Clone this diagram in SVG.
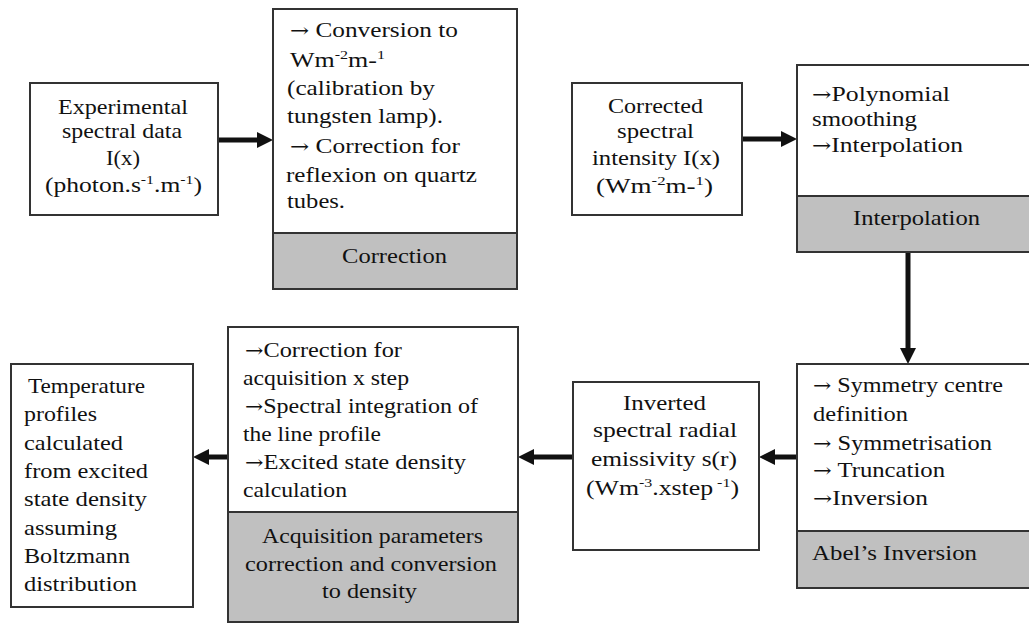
<svg xmlns="http://www.w3.org/2000/svg" width="1029" height="624" viewBox="0 0 1029 624">
<style>
.box{fill:#fff;stroke:#333;stroke-width:2}
.gray{fill:#c0c0c0;stroke:#333;stroke-width:2}
text{font-family:"Liberation Serif","Times New Roman",serif;font-size:21px;fill:#111}
.sup{font-size:13px}
.ar{font-family:"DejaVu Serif","Liberation Serif",serif;font-size:19px}
.conn{stroke:#111;stroke-width:5;fill:none}
</style>
<defs>
<marker id="ah" markerUnits="userSpaceOnUse" markerWidth="16" markerHeight="16" refX="4" refY="8" orient="auto">
<path d="M0,0 L16,8 L0,16 z" fill="#111"/>
</marker>
</defs>
<rect width="1029" height="624" fill="#fff"/>
<g id="connectors">
<path class="conn" d="M218,140 H261" marker-end="url(#ah)"/>
<path class="conn" d="M742,139 H785" marker-end="url(#ah)"/>
<path class="conn" d="M908,252 V352" marker-end="url(#ah)"/>
<path class="conn" d="M797,457 H771" marker-end="url(#ah)"/>
<path class="conn" d="M573,457 H530" marker-end="url(#ah)"/>
<path class="conn" d="M228,457 H205" marker-end="url(#ah)"/>
</g>
<g id="experimental">
<rect class="box" x="30" y="83" width="188" height="132"/>
<text x="58" y="114" textLength="130" lengthAdjust="spacingAndGlyphs">Experimental</text>
<text x="62" y="138" textLength="120" lengthAdjust="spacingAndGlyphs">spectral data</text>
<text x="106" y="165" textLength="34" lengthAdjust="spacingAndGlyphs">I(x)</text>
<text x="45" y="192" textLength="157" lengthAdjust="spacingAndGlyphs">(photon.s<tspan class="sup" dy="-8">-1</tspan><tspan dy="8">.m</tspan><tspan class="sup" dy="-8">-1</tspan><tspan dy="8">)</tspan></text>
</g>
<g id="correction">
<rect class="box" x="273" y="9" width="244" height="224"/>
<rect class="gray" x="273" y="233" width="244" height="56"/>
<text x="290" y="37" textLength="168" lengthAdjust="spacingAndGlyphs"><tspan class="ar">→</tspan> Conversion to</text>
<text x="290" y="67" textLength="95" lengthAdjust="spacingAndGlyphs">Wm<tspan class="sup" dy="-8">-2</tspan><tspan dy="8">m-</tspan><tspan class="sup" dy="-8">1</tspan></text>
<text x="287" y="95" textLength="148" lengthAdjust="spacingAndGlyphs">(calibration by</text>
<text x="287" y="123" textLength="156" lengthAdjust="spacingAndGlyphs">tungsten lamp).</text>
<text x="290" y="153" textLength="170" lengthAdjust="spacingAndGlyphs"><tspan class="ar">→</tspan> Correction for</text>
<text x="286" y="182" textLength="191" lengthAdjust="spacingAndGlyphs">reflexion on quartz</text>
<text x="287" y="208" textLength="58" lengthAdjust="spacingAndGlyphs">tubes.</text>
<text x="342" y="263" textLength="105" lengthAdjust="spacingAndGlyphs">Correction</text>
</g>
<g id="corrected">
<rect class="box" x="572" y="83" width="170" height="132"/>
<text x="608" y="113" textLength="95" lengthAdjust="spacingAndGlyphs">Corrected</text>
<text x="617" y="138" textLength="77" lengthAdjust="spacingAndGlyphs">spectral</text>
<text x="592" y="165" textLength="128" lengthAdjust="spacingAndGlyphs">intensity I(x)</text>
<text x="596" y="193" textLength="117" lengthAdjust="spacingAndGlyphs">(Wm<tspan class="sup" dy="-8">-2</tspan><tspan dy="8">m-</tspan><tspan class="sup" dy="-8">1</tspan><tspan dy="8">)</tspan></text>
</g>
<g id="interpolation">
<rect class="box" x="797" y="65" width="240" height="131"/>
<rect class="gray" x="797" y="196" width="240" height="56"/>
<text x="812" y="101" textLength="138" lengthAdjust="spacingAndGlyphs"><tspan class="ar">→</tspan>Polynomial</text>
<text x="812" y="126" textLength="105" lengthAdjust="spacingAndGlyphs">smoothing</text>
<text x="812" y="152" textLength="151" lengthAdjust="spacingAndGlyphs"><tspan class="ar">→</tspan>Interpolation</text>
<text x="853" y="225" textLength="127" lengthAdjust="spacingAndGlyphs">Interpolation</text>
</g>
<g id="abel">
<rect class="box" x="797" y="364" width="240" height="167"/>
<rect class="gray" x="797" y="531" width="240" height="57"/>
<text x="813" y="392" textLength="190" lengthAdjust="spacingAndGlyphs"><tspan class="ar">→</tspan> Symmetry centre</text>
<text x="813" y="421" textLength="95" lengthAdjust="spacingAndGlyphs">definition</text>
<text x="813" y="450" textLength="179" lengthAdjust="spacingAndGlyphs"><tspan class="ar">→</tspan> Symmetrisation</text>
<text x="813" y="477" textLength="132" lengthAdjust="spacingAndGlyphs"><tspan class="ar">→</tspan> Truncation</text>
<text x="813" y="505" textLength="115" lengthAdjust="spacingAndGlyphs"><tspan class="ar">→</tspan>Inversion</text>
<text x="812" y="560" textLength="165" lengthAdjust="spacingAndGlyphs">Abel’s Inversion</text>
</g>
<g id="inverted">
<rect class="box" x="573" y="382" width="186" height="168"/>
<text x="623" y="410" textLength="83" lengthAdjust="spacingAndGlyphs">Inverted</text>
<text x="593" y="437" textLength="144" lengthAdjust="spacingAndGlyphs">spectral radial</text>
<text x="591" y="466" textLength="146" lengthAdjust="spacingAndGlyphs">emissivity s(r)</text>
<text x="586" y="495" textLength="153" lengthAdjust="spacingAndGlyphs">(Wm<tspan class="sup" dy="-8">-3</tspan><tspan dy="8">.xstep</tspan><tspan class="sup" dy="-8"> -1</tspan><tspan dy="8">)</tspan></text>
</g>
<g id="acquisition">
<rect class="box" x="228" y="327" width="290" height="185"/>
<rect class="gray" x="228" y="512" width="290" height="110"/>
<text x="245" y="357" textLength="157" lengthAdjust="spacingAndGlyphs"><tspan class="ar">→</tspan>Correction for</text>
<text x="243" y="385" textLength="166" lengthAdjust="spacingAndGlyphs">acquisition x step</text>
<text x="245" y="413" textLength="233" lengthAdjust="spacingAndGlyphs"><tspan class="ar">→</tspan>Spectral integration of</text>
<text x="243" y="441" textLength="138" lengthAdjust="spacingAndGlyphs">the line profile</text>
<text x="245" y="469" textLength="221" lengthAdjust="spacingAndGlyphs"><tspan class="ar">→</tspan>Excited state density</text>
<text x="243" y="497" textLength="104" lengthAdjust="spacingAndGlyphs">calculation</text>
<text x="262" y="543" textLength="221" lengthAdjust="spacingAndGlyphs">Acquisition parameters</text>
<text x="245" y="571" textLength="252" lengthAdjust="spacingAndGlyphs">correction and conversion</text>
<text x="322" y="598" textLength="95" lengthAdjust="spacingAndGlyphs">to density</text>
</g>
<g id="temperature">
<rect class="box" x="11" y="364" width="182" height="243"/>
<text x="28" y="393" textLength="117" lengthAdjust="spacingAndGlyphs">Temperature</text>
<text x="24" y="421" textLength="73" lengthAdjust="spacingAndGlyphs">profiles</text>
<text x="24" y="450" textLength="99" lengthAdjust="spacingAndGlyphs">calculated</text>
<text x="24" y="478" textLength="124" lengthAdjust="spacingAndGlyphs">from excited</text>
<text x="24" y="506" textLength="123" lengthAdjust="spacingAndGlyphs">state density</text>
<text x="24" y="535" textLength="93" lengthAdjust="spacingAndGlyphs">assuming</text>
<text x="24" y="563" textLength="106" lengthAdjust="spacingAndGlyphs">Boltzmann</text>
<text x="24" y="591" textLength="113" lengthAdjust="spacingAndGlyphs">distribution</text>
</g>
</svg>
